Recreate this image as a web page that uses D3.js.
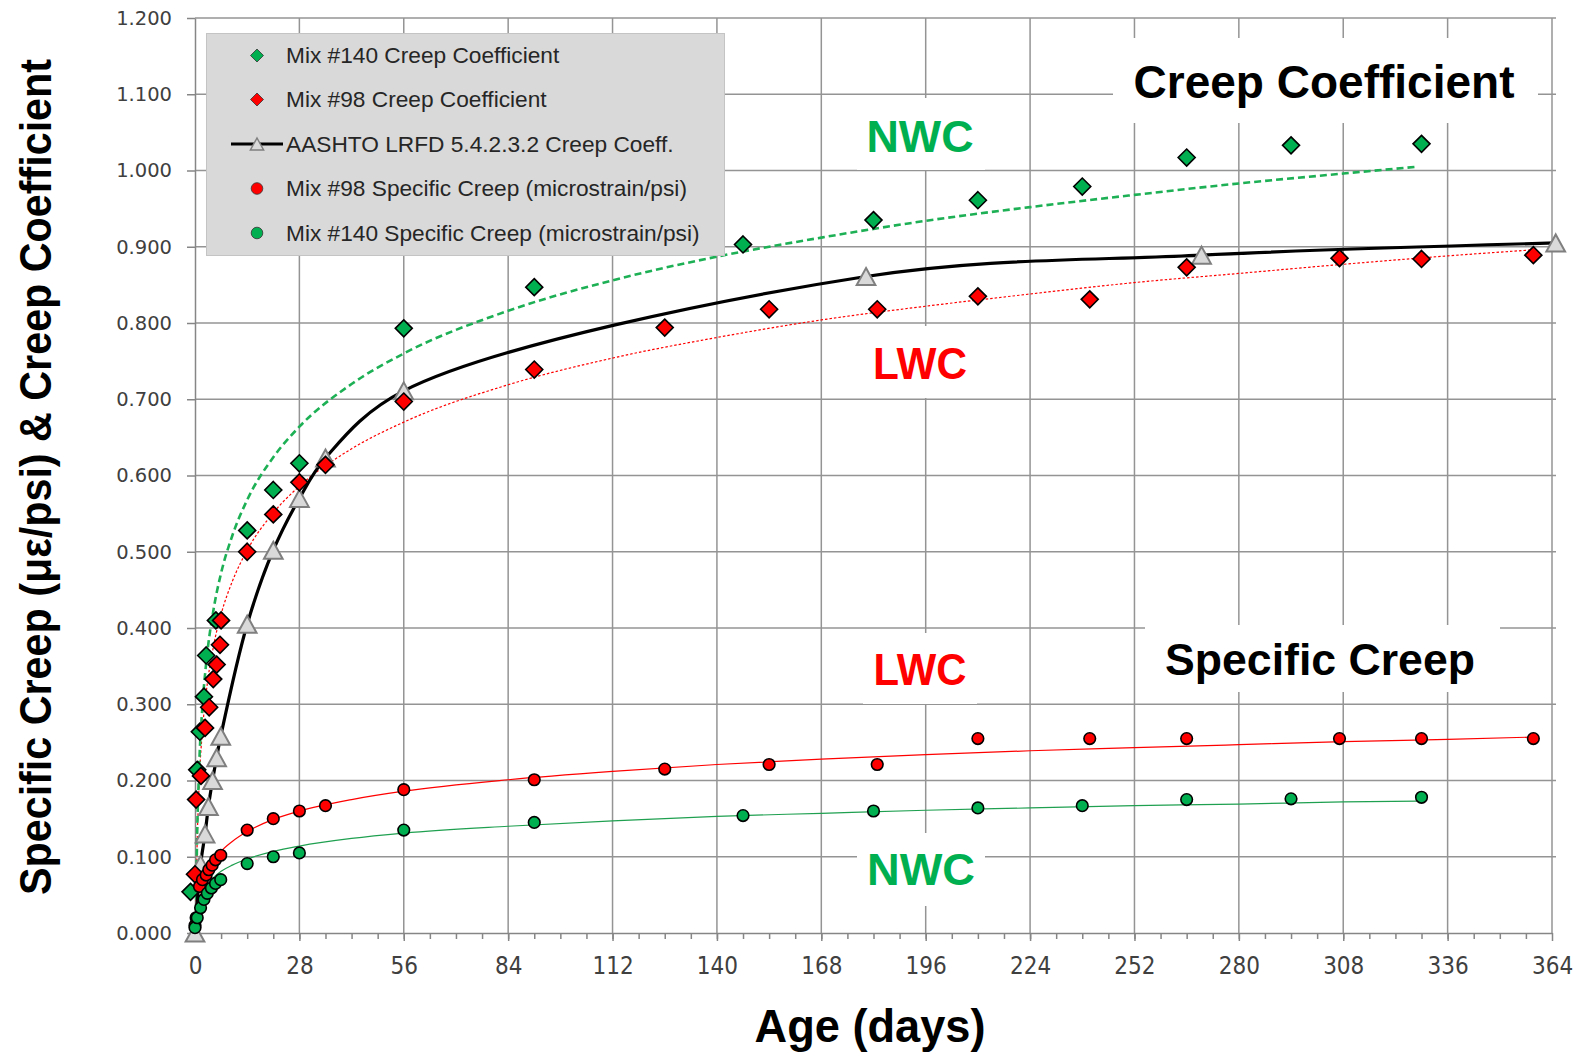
<!DOCTYPE html>
<html>
<head>
<meta charset="utf-8">
<script src="https://d3js.org/d3.v7.min.js"></script>
<style>
  body { margin: 0; background: #fff; }
</style>
</head>
<body>
<script>
/*
*    creep chart
*/

// axis ticks
var xTickValues = [0, 28, 56, 84, 112, 140, 168, 196, 224, 252, 280, 308, 336, 364];
var yTickValues = [0, 0.1, 0.2, 0.3, 0.4, 0.5, 0.6, 0.7, 0.8, 0.9, 1.0, 1.1, 1.2];

// measured series
var mix140CcDays = [-1.2, 0.6, 1.3, 2.4, 3.0, 5.6, 14, 21, 28, 56, 91, 147, 182, 210, 238, 266, 294, 329];
var mix140CcVals = [0.054, 0.214, 0.264, 0.310, 0.364, 0.410, 0.528, 0.581, 0.616, 0.793, 0.847, 0.903, 0.935, 0.961, 0.979, 1.017, 1.033, 1.035];

var mix98CcDays = [0, 0.3, 1.6, 2.7, 3.8, 4.9, 5.8, 6.7, 7.0, 14, 21, 28, 35, 56, 91, 126, 154, 183, 210, 240, 266, 307, 329, 359];
var mix98CcVals = [0.077, 0.175, 0.206, 0.269, 0.296, 0.333, 0.352, 0.378, 0.410, 0.500, 0.549, 0.591, 0.614, 0.697, 0.739, 0.794, 0.818, 0.818, 0.835, 0.831, 0.873, 0.885, 0.884, 0.889];

var aashtoDays = [0, 1.5, 2.7, 3.6, 4.7, 5.8, 6.9, 14, 21, 28, 35, 56, 180, 270, 365];
var aashtoVals = [0, 0.090, 0.130, 0.166, 0.200, 0.230, 0.258, 0.405, 0.502, 0.570, 0.623, 0.711, 0.861, 0.889, 0.905];

var mix98ScDays = [0, 0.3, 1.2, 2.0, 3.0, 3.7, 4.6, 5.5, 6.9, 14, 21, 28, 35, 56, 91, 126, 154, 183, 210, 240, 266, 307, 329, 359];
var mix98ScVals = [0.010, 0.020, 0.061, 0.070, 0.076, 0.083, 0.089, 0.096, 0.102, 0.135, 0.150, 0.160, 0.167, 0.188, 0.201, 0.215, 0.221, 0.221, 0.255, 0.255, 0.255, 0.255, 0.255, 0.255];

var mix140ScDays = [0, 0.6, 1.5, 2.4, 3.3, 4.4, 5.5, 6.9, 14, 21, 28, 56, 91, 147, 182, 210, 238, 266, 294, 329];
var mix140ScVals = [0.007, 0.020, 0.033, 0.044, 0.052, 0.059, 0.065, 0.070, 0.091, 0.100, 0.105, 0.135, 0.145, 0.154, 0.160, 0.164, 0.167, 0.175, 0.176, 0.178];

// trend lines
var trend140CcDays = [0.23, 0.5, 1, 2, 3, 5, 7, 10, 14, 21, 28, 42, 56, 84, 112, 140, 168, 196, 224, 252, 280, 308, 328];
var trend140CcVals = [0, 0.106, 0.202, 0.298, 0.354, 0.425, 0.472, 0.521, 0.568, 0.624, 0.664, 0.720, 0.760, 0.816, 0.856, 0.887, 0.912, 0.934, 0.952, 0.968, 0.983, 0.996, 1.005];

var trend98CcDays = [0.22, 0.5, 1, 2, 3, 5, 7, 10, 14, 21, 28, 42, 56, 84, 112, 140, 168, 196, 224, 252, 280, 308, 336, 359];
var trend98CcVals = [0, 0.098, 0.182, 0.266, 0.315, 0.377, 0.418, 0.461, 0.502, 0.551, 0.586, 0.635, 0.670, 0.719, 0.754, 0.781, 0.804, 0.822, 0.838, 0.853, 0.865, 0.877, 0.888, 0.896];

var trend98ScDays = [0.42, 0.5, 1, 2, 3, 5, 7, 10, 14, 21, 28, 42, 56, 84, 112, 140, 168, 196, 224, 252, 280, 308, 336, 359];
var trend98ScVals = [0, 0.007, 0.033, 0.059, 0.075, 0.094, 0.107, 0.120, 0.133, 0.149, 0.160, 0.175, 0.186, 0.201, 0.212, 0.221, 0.228, 0.234, 0.239, 0.243, 0.247, 0.251, 0.254, 0.257];

var trend140ScDays = [0.24, 0.5, 1, 2, 3, 5, 7, 10, 14, 21, 28, 42, 56, 84, 112, 140, 168, 196, 224, 252, 280, 308, 328];
var trend140ScVals = [0, 0.017, 0.034, 0.051, 0.060, 0.073, 0.081, 0.089, 0.097, 0.107, 0.114, 0.124, 0.131, 0.140, 0.147, 0.153, 0.157, 0.161, 0.164, 0.167, 0.169, 0.172, 0.173];

var legendLabels = [
  "Mix #140 Creep Coefficient",
  "Mix #98 Creep Coefficient",
  "AASHTO LRFD 5.4.2.3.2 Creep Coeff.",
  "Mix #98 Specific Creep (microstrain/psi)",
  "Mix #140 Specific Creep (microstrain/psi)"
];

var GREEN = "#00b050", RED = "#ff0000";

var margin = {left: 195, right: 23, top: 18, bottom: 121};
var width = 1575 - margin.left - margin.right;
var height = 1054 - margin.top - margin.bottom;

var svg = d3.select("body")
  .append("svg")
  .attr("width", 1575)
  .attr("height", 1054);

var g = svg.append("g")
  .attr("transform", "translate(" + margin.left + "," + margin.top + ")");

var x = d3.scaleLinear().domain([0, 364]).range([0, width]);
var y = d3.scaleLinear().domain([0, 1.2]).range([height, 0]);

// grid
g.append("g").selectAll("line")
  .data(xTickValues.slice(1))
  .enter().append("line")
  .attr("x1", function(d) { return x(d); })
  .attr("x2", function(d) { return x(d); })
  .attr("y1", 0)
  .attr("y2", height)
  .attr("stroke", "#949494")
  .attr("stroke-width", 1.5);

g.append("g").selectAll("line")
  .data(yTickValues.slice(1))
  .enter().append("line")
  .attr("x1", 0)
  .attr("x2", width + 4)
  .attr("y1", function(d) { return y(d); })
  .attr("y2", function(d) { return y(d); })
  .attr("stroke", "#949494")
  .attr("stroke-width", 1.5);

// text boxes on the plot
function note(bx, by, bw, bh, tx, ty, txt, color, size, len) {
  svg.append("rect")
    .attr("x", bx).attr("y", by).attr("width", bw).attr("height", bh)
    .attr("fill", "#fff");
  svg.append("text")
    .attr("x", tx).attr("y", ty)
    .attr("text-anchor", "middle")
    .attr("font-family", "Liberation Sans, Arial, sans-serif")
    .attr("font-weight", "bold")
    .attr("font-size", size + "px")
    .attr("fill", color)
    .attr("textLength", len)
    .attr("lengthAdjust", "spacingAndGlyphs")
    .text(txt);
}
note(1113, 38, 425, 85, 1324, 98, "Creep Coefficient", "#000", 46, 381);
note(1145, 625, 355, 67, 1320, 675, "Specific Creep", "#000", 45, 310);
note(857, 98, 128, 72, 920, 152, "NWC", GREEN, 45, 107);
note(863, 326, 114, 72, 920, 379, "LWC", RED, 44, 94);
note(863, 633, 114, 71, 920, 685, "LWC", RED, 44, 93);
note(857, 833, 128, 73, 921, 885, "NWC", GREEN, 45, 108);

// axes
var minorTicks = d3.range(7, 364, 7);
g.append("g")
  .attr("transform", "translate(0," + height + ")")
  .call(d3.axisBottom(x).tickValues(minorTicks).tickSize(6).tickSizeOuter(0).tickFormat(""))
  .call(function(s) {
    s.select(".domain").remove();
    s.selectAll("line").attr("stroke", "#868686").attr("stroke-width", 1.5);
  });

var xAxisCall = d3.axisBottom(x)
  .tickValues(xTickValues)
  .tickSize(8)
  .tickSizeOuter(0)
  .tickPadding(16)
  .tickFormat(d3.format("d"));

g.append("g")
  .attr("class", "x axis")
  .attr("transform", "translate(0," + height + ")")
  .call(xAxisCall)
  .call(function(s) {
    s.select(".domain").attr("stroke", "#868686").attr("stroke-width", 1.5);
    s.selectAll("line").attr("stroke", "#868686").attr("stroke-width", 1.5);
    s.selectAll("text")
      .attr("font-family", "Liberation Sans Narrow, DejaVu Sans Condensed, sans-serif")
      .attr("font-size", "24px")
      .attr("fill", "#404040");
  });

var yAxisCall = d3.axisLeft(y)
  .tickValues(yTickValues)
  .tickSize(8)
  .tickSizeOuter(0)
  .tickPadding(15)
  .tickFormat(d3.format(".3f"));

g.append("g")
  .attr("class", "y axis")
  .call(yAxisCall)
  .call(function(s) {
    s.select(".domain").attr("stroke", "#868686").attr("stroke-width", 1.5);
    s.selectAll("line").attr("stroke", "#868686").attr("stroke-width", 1.5);
    s.selectAll("text")
      .attr("font-family", "DejaVu Sans, sans-serif")
      .attr("font-size", "19.5px")
      .attr("fill", "#404040");
  });

// axis titles
svg.append("text")
  .attr("x", 870)
  .attr("y", 1042)
  .attr("text-anchor", "middle")
  .attr("font-family", "Liberation Sans, Arial, sans-serif")
  .attr("font-weight", "bold")
  .attr("font-size", "46px")
  .attr("textLength", 231)
  .attr("lengthAdjust", "spacingAndGlyphs")
  .text("Age (days)");

svg.append("text")
  .attr("transform", "translate(51,477) rotate(-90)")
  .attr("text-anchor", "middle")
  .attr("font-family", "Liberation Sans, Arial, sans-serif")
  .attr("font-weight", "bold")
  .attr("font-size", "44px")
  .attr("textLength", 836)
  .attr("lengthAdjust", "spacingAndGlyphs")
  .text("Specific Creep (\u03bc\u03b5/psi) & Creep Coefficient");

// lines
var line = d3.line()
  .x(function(d) { return x(d[0]); })
  .y(function(d) { return y(d[1]); })
  .curve(d3.curveMonotoneX);

function trend(days, vals, color, w, dash) {
  g.append("path")
    .datum(d3.zip(days, vals))
    .attr("d", line)
    .attr("fill", "none")
    .attr("stroke", color)
    .attr("stroke-width", w)
    .attr("stroke-dasharray", dash);
}
trend(trend98ScDays, trend98ScVals, RED, 1.2, null);
trend(trend140ScDays, trend140ScVals, "#1fa050", 1.2, null);
trend(trend98CcDays, trend98CcVals, RED, 1.2, "2.5,2");
trend(trend140CcDays, trend140CcVals, "#1eb055", 2.6, "7,4");

g.append("path")
  .datum(d3.zip(aashtoDays, aashtoVals))
  .attr("d", d3.line()
    .x(function(d) { return x(d[0]); })
    .y(function(d) { return y(d[1]); })
    .curve(d3.curveCatmullRom.alpha(0.5)))
  .attr("fill", "none")
  .attr("stroke", "#000")
  .attr("stroke-width", 3.2);

// markers
function diamond(s) { return "M0," + (-s) + "L" + s + ",0L0," + s + "L" + (-s) + ",0Z"; }
function triangle(s) { return "M0," + (-s) + "L" + (s * 1.1) + "," + s + "L" + (-s * 1.1) + "," + s + "Z"; }

function markers(days, vals, pathStr, fill, stroke, sw) {
  g.append("g").selectAll("path")
    .data(d3.zip(days, vals))
    .enter().append("path")
    .attr("transform", function(d) { return "translate(" + x(d[0]) + "," + y(d[1]) + ")"; })
    .attr("d", pathStr)
    .attr("fill", fill)
    .attr("stroke", stroke)
    .attr("stroke-width", sw);
}
function dots(days, vals, fill) {
  g.append("g").selectAll("circle")
    .data(d3.zip(days, vals))
    .enter().append("circle")
    .attr("cx", function(d) { return x(d[0]); })
    .attr("cy", function(d) { return y(d[1]); })
    .attr("r", 5.8)
    .attr("fill", fill)
    .attr("stroke", "#000")
    .attr("stroke-width", 1.6);
}

markers(aashtoDays, aashtoVals, triangle(8.5), "#d9d9d9", "#7f7f7f", 2);
markers(mix140CcDays, mix140CcVals, diamond(8.5), GREEN, "#000", 1.6);
markers(mix98CcDays, mix98CcVals, diamond(8.5), RED, "#000", 1.6);
dots(mix98ScDays, mix98ScVals, RED);
dots(mix140ScDays, mix140ScVals, GREEN);

// legend
var legend = svg.append("g");
legend.append("rect")
  .attr("x", 206.5).attr("y", 33.5).attr("width", 518).attr("height", 222)
  .attr("fill", "#d9d9d9")
  .attr("stroke", "#c4c4c4");

var legendY = [55.5, 99.5, 144, 188.5, 233];
legendLabels.forEach(function(label, i) {
  var ly = legendY[i];
  if (i === 0 || i === 1) {
    legend.append("path")
      .attr("transform", "translate(257," + ly + ")")
      .attr("d", diamond(6.5))
      .attr("fill", i === 0 ? GREEN : RED)
      .attr("stroke", "#333").attr("stroke-width", 0.8);
  } else if (i === 2) {
    legend.append("line")
      .attr("x1", 231).attr("x2", 283).attr("y1", ly).attr("y2", ly)
      .attr("stroke", "#000").attr("stroke-width", 3);
    legend.append("path")
      .attr("transform", "translate(257," + ly + ")")
      .attr("d", triangle(6))
      .attr("fill", "#d9d9d9")
      .attr("stroke", "#7f7f7f").attr("stroke-width", 1.5);
  } else {
    legend.append("circle")
      .attr("cx", 257).attr("cy", ly).attr("r", 5.8)
      .attr("fill", i === 3 ? RED : GREEN)
      .attr("stroke", "#333").attr("stroke-width", 0.8);
  }
  legend.append("text")
    .attr("x", 286)
    .attr("y", ly + 7.5)
    .attr("font-family", "Liberation Sans, Arial, sans-serif")
    .attr("font-size", "22.7px")
    .attr("fill", "#262626")
    .text(label);
});
</script>
</body>
</html>
